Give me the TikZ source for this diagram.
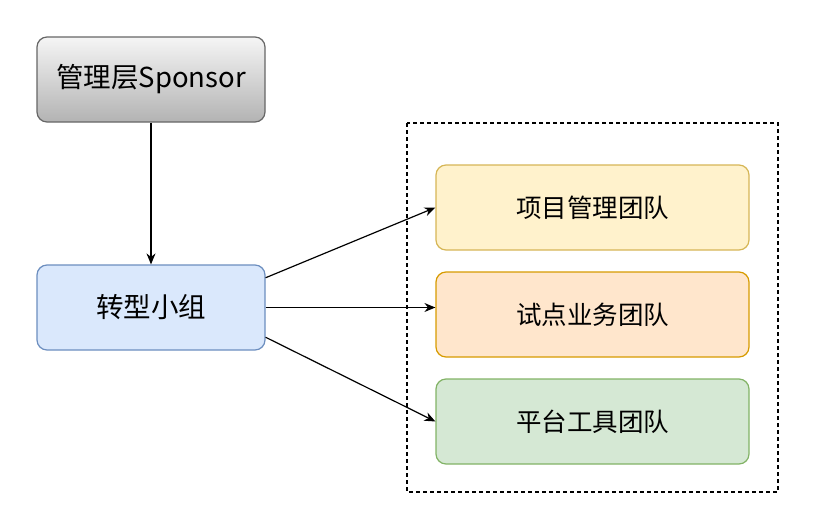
\documentclass[tikz,border=0pt]{standalone}
\usepackage{fontspec}
\setmainfont{Noto Sans CJK SC}
\usetikzlibrary{calc,arrows.meta}
\definecolor{grayTop}{HTML}{F5F5F5}
\definecolor{grayBot}{HTML}{B3B3B3}
\definecolor{grayLine}{HTML}{666666}
\definecolor{blueFill}{HTML}{DAE8FC}
\definecolor{blueLine}{HTML}{6C8EBF}
\definecolor{yelFill}{HTML}{FFF2CC}
\definecolor{yelLine}{HTML}{D6B656}
\definecolor{orgFill}{HTML}{FFE6CC}
\definecolor{orgLine}{HTML}{D79B00}
\definecolor{grnFill}{HTML}{D5E8D4}
\definecolor{grnLine}{HTML}{82B366}
\tikzset{
  box/.style={rounded corners=10pt, line width=1.2pt, minimum width=228pt, minimum height=85pt, inner sep=0pt, font=\fontsize{27.5}{32}\selectfont},
  team/.style={box, minimum width=313pt, font=\fontsize{25.5}{30}\selectfont},
  conn/.style={line width=1.2pt, -{Stealth[length=11pt,width=9pt]}},
}
\begin{document}
\begin{tikzpicture}[x=1pt,y=-1pt]
\useasboundingbox (0,0) rectangle (814,522);
\node[box, draw=grayLine, top color=grayTop, bottom color=grayBot] (sp) at (151,79.5) {管理层Sponsor};
\node[box, draw=blueLine, fill=blueFill] (zx) at (151,307.5) {转型小组};
\draw[dash pattern=on 4pt off 3pt, line width=1.3pt] (407,123) rectangle (778,492);
\node[team, draw=yelLine, fill=yelFill] (xm) at (592.5,207.5) {\raisebox{-2pt}{项目管理团队}};
\node[team, draw=orgLine, fill=orgFill] (sd) at (592.5,314.5) {\raisebox{-2pt}{试点业务团队}};
\node[team, draw=grnLine, fill=grnFill] (pt) at (592.5,421.5) {\raisebox{-2pt}{平台工具团队}};
\draw[conn] (sp.south) -- (zx.north);
\draw[conn] ($(zx.north east)!0.155!(zx.south east)$) -- (xm.west);
\draw[conn] (zx.east) -- (zx.east -| sd.west);
\draw[conn] ($(zx.north east)!0.845!(zx.south east)$) -- (pt.west);
\end{tikzpicture}
\end{document}
